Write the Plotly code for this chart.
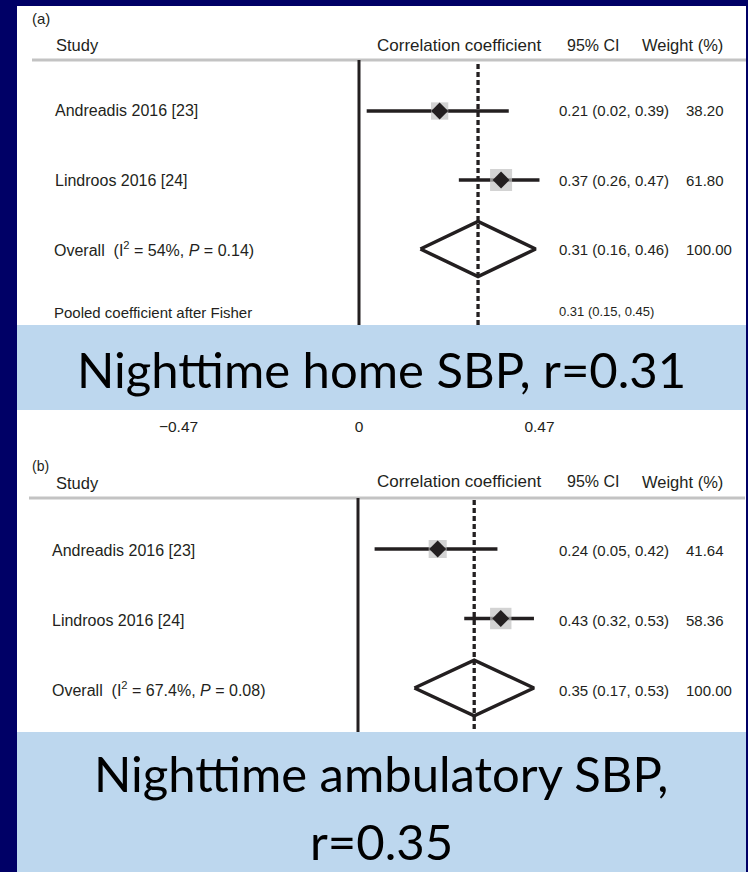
import plotly.graph_objects as go

# ---------------- data ----------------
studies = ["Andreadis 2016 [23]", "Lindroos 2016 [24]"]

a_r = [0.21, 0.37]
a_lo = [0.02, 0.26]
a_hi = [0.39, 0.47]
a_w = [38.20, 61.80]
a_overall = 0.31
a_overall_lo = 0.16
a_overall_hi = 0.46
a_overall_w = 100.00
a_i2 = "54%"
a_p = "0.14"
a_pooled = 0.31
a_pooled_lo = 0.15
a_pooled_hi = 0.45
a_ticks = [-0.47, 0, 0.47]
a_ticktext = ["\u22120.47", "0", "0.47"]

b_r = [0.24, 0.43]
b_lo = [0.05, 0.32]
b_hi = [0.42, 0.53]
b_w = [41.64, 58.36]
b_overall = 0.35
b_overall_lo = 0.17
b_overall_hi = 0.53
b_overall_w = 100.00
b_i2 = "67.4%"
b_p = "0.08"

banner_a = "Nighttime home SBP, r=0.31"
banner_b1 = "Nighttime ambulatory SBP,"
banner_b2 = "r=0.35"

# ---------------- layout helpers ----------------
W, H = 748, 872
NAVY = "#000066"
BANNER = "#BDD7EE"
INK = "#231F20"
GREY = "#C0C0C0"
FF = "Liberation Sans, Arial, sans-serif"
BF = "Lato, Open Sans, sans-serif"


def X(p):
    return p / W


def Y(p):
    return 1 - p / H


def ci(r, lo, hi):
    return f"{r:.2f} ({lo:.2f}, {hi:.2f})"


fig = go.Figure()

rows = [0, 1]
ov_row = 2
dh = 0.4  # half height of overall diamond (rows)


def panel(xa, ya, r, lo, hi, w, ov, ovlo, ovhi):
    xs, ys = [], []
    for i in rows:
        xs += [lo[i], hi[i], None]
        ys += [i, i, None]
    fig.add_trace(go.Scatter(x=xs, y=ys, mode="lines", xaxis=xa, yaxis=ya,
                             line=dict(color=INK, width=3.3), hoverinfo="skip",
                             showlegend=False))
    fig.add_trace(go.Scatter(x=r, y=rows, mode="markers", xaxis=xa, yaxis=ya,
                             marker=dict(symbol="square", color=GREY,
                                         size=[2.8 * v ** 0.5 for v in w],
                                         line=dict(width=0)),
                             showlegend=False))
    fig.add_trace(go.Scatter(x=r, y=rows, mode="markers", xaxis=xa, yaxis=ya,
                             marker=dict(symbol="diamond", color=INK, size=13,
                                         line=dict(width=0)),
                             showlegend=False))
    fig.add_trace(go.Scatter(x=[ovlo, ov, ovhi, ov, ovlo],
                             y=[ov_row, ov_row - dh, ov_row, ov_row + dh, ov_row],
                             mode="lines", xaxis=xa, yaxis=ya,
                             line=dict(color=INK, width=3.5), showlegend=False))


panel("x", "y", a_r, a_lo, a_hi, a_w, a_overall, a_overall_lo, a_overall_hi)
panel("x2", "y2", b_r, b_lo, b_hi, b_w, b_overall, b_overall_lo, b_overall_hi)

shapes = []
# white panel
shapes.append(dict(type="rect", xref="paper", yref="paper", x0=X(17), x1=X(746),
                   y0=Y(872), y1=Y(6), fillcolor="white", line=dict(width=0),
                   layer="below"))
# header rules
shapes.append(dict(type="line", xref="paper", yref="paper", x0=X(32), x1=X(746),
                   y0=Y(60), y1=Y(60), line=dict(color="#C3C3C3", width=3), layer="below"))
shapes.append(dict(type="line", xref="paper", yref="paper", x0=X(29), x1=X(745),
                   y0=Y(498), y1=Y(498), line=dict(color="#C3C3C3", width=3), layer="below"))
# null lines and overall lines
for xr, ov, top, bot in [("x", a_overall, 60, 405), ("x2", b_overall, 498, 745)]:
    shapes.append(dict(type="line", xref=xr, yref="paper", x0=0, x1=0,
                       y0=Y(bot), y1=Y(top), line=dict(color=INK, width=3), layer="below"))
    shapes.append(dict(type="line", xref=xr, yref="paper", x0=ov, x1=ov,
                       y0=Y(bot), y1=Y(top + 2),
                       line=dict(color=INK, width=3.3, dash="5px,3px"), layer="below"))
# banners
shapes.append(dict(type="rect", xref="paper", yref="paper", x0=X(17), x1=X(746),
                   y0=Y(410), y1=Y(325), fillcolor=BANNER, line=dict(width=0),
                   layer="above"))
shapes.append(dict(type="rect", xref="paper", yref="paper", x0=X(17), x1=X(746),
                   y0=Y(872), y1=Y(732), fillcolor=BANNER, line=dict(width=0),
                   layer="above"))

ann = []


def txt(x, y, s, size=16, anchor="left", family=FF, color=INK, yanchor="middle"):
    ann.append(dict(x=X(x), y=Y(y), xref="paper", yref="paper", text=s,
                    showarrow=False, xanchor=anchor, yanchor=yanchor,
                    font=dict(family=family, size=size, color=color)))


# panel (a) text
txt(30, 18, "(a)", 15)
txt(54, 45, "Study", 16.5)
txt(375, 45, "Correlation coefficient", 17)
txt(565, 45, "95% CI", 16)
txt(640, 45, "Weight (%)", 16.5)
a_rows_px = [111, 181]
for i in rows:
    txt(53, a_rows_px[i], studies[i], 16)
    txt(557, a_rows_px[i], ci(a_r[i], a_lo[i], a_hi[i]), 15)
    txt(684, a_rows_px[i], f"{a_w[i]:.2f}", 15)
txt(52, 249, f"Overall  (I<sup>2</sup> = {a_i2}, <i>P</i> = {a_p})", 16)
txt(557, 249, ci(a_overall, a_overall_lo, a_overall_hi), 15)
txt(684, 249, f"{a_overall_w:.2f}", 15)
txt(52, 312, "Pooled coefficient after Fisher", 15)
txt(557, 311, ci(a_pooled, a_pooled_lo, a_pooled_hi), 13)

# panel (b) text
txt(30, 466, "(b)", 14)
txt(54, 483, "Study", 16.5)
txt(375, 482, "Correlation coefficient", 17)
txt(565, 482, "95% CI", 16)
txt(640, 482, "Weight (%)", 16.5)
b_rows_px = [550, 620]
for i in rows:
    txt(50, b_rows_px[i], studies[i], 16)
    txt(557, b_rows_px[i], ci(b_r[i], b_lo[i], b_hi[i]), 15)
    txt(684, b_rows_px[i], f"{b_w[i]:.2f}", 15)
txt(50, 689, f"Overall  (I<sup>2</sup> = {b_i2}, <i>P</i> = {b_p})", 16)
txt(557, 690, ci(b_overall, b_overall_lo, b_overall_hi), 15)
txt(684, 690, f"{b_overall_w:.2f}", 15)

# banner text
txt(381, 369, banner_a, 49, "center", BF, "black")
txt(381, 773, banner_b1, 49, "center", BF, "black")
txt(381, 872, banner_b2, 49, "center", BF, "black", yanchor="bottom")

fig.update_layout(
    width=W, height=H, margin=dict(l=0, r=0, t=0, b=0),
    paper_bgcolor=NAVY, plot_bgcolor="rgba(0,0,0,0)",
    showlegend=False, shapes=shapes, annotations=ann,
    xaxis=dict(domain=[0, 1], range=[-359 / 384, (W - 359) / 384],
               anchor="free", position=Y(415), showgrid=False, zeroline=False,
               showline=False, ticks="", tickvals=a_ticks, ticktext=a_ticktext,
               tickfont=dict(family=FF, size=15.5, color=INK), fixedrange=True),
    yaxis=dict(domain=[0, 1], range=[(H - 111) / 69, -111 / 69], visible=False,
               fixedrange=True),
    xaxis2=dict(domain=[0, 1], range=[-358 / 332, (W - 358) / 332], anchor="y2",
                visible=False, fixedrange=True),
    yaxis2=dict(domain=[0, 1], range=[(H - 549) / 69.5, -549 / 69.5], anchor="x2",
                visible=False, fixedrange=True),
)

fig.write_html(
    "out.html",
    config={"displayModeBar": False},
    post_script="document.body.style.margin='0';document.body.style.background='#000066';",
)
